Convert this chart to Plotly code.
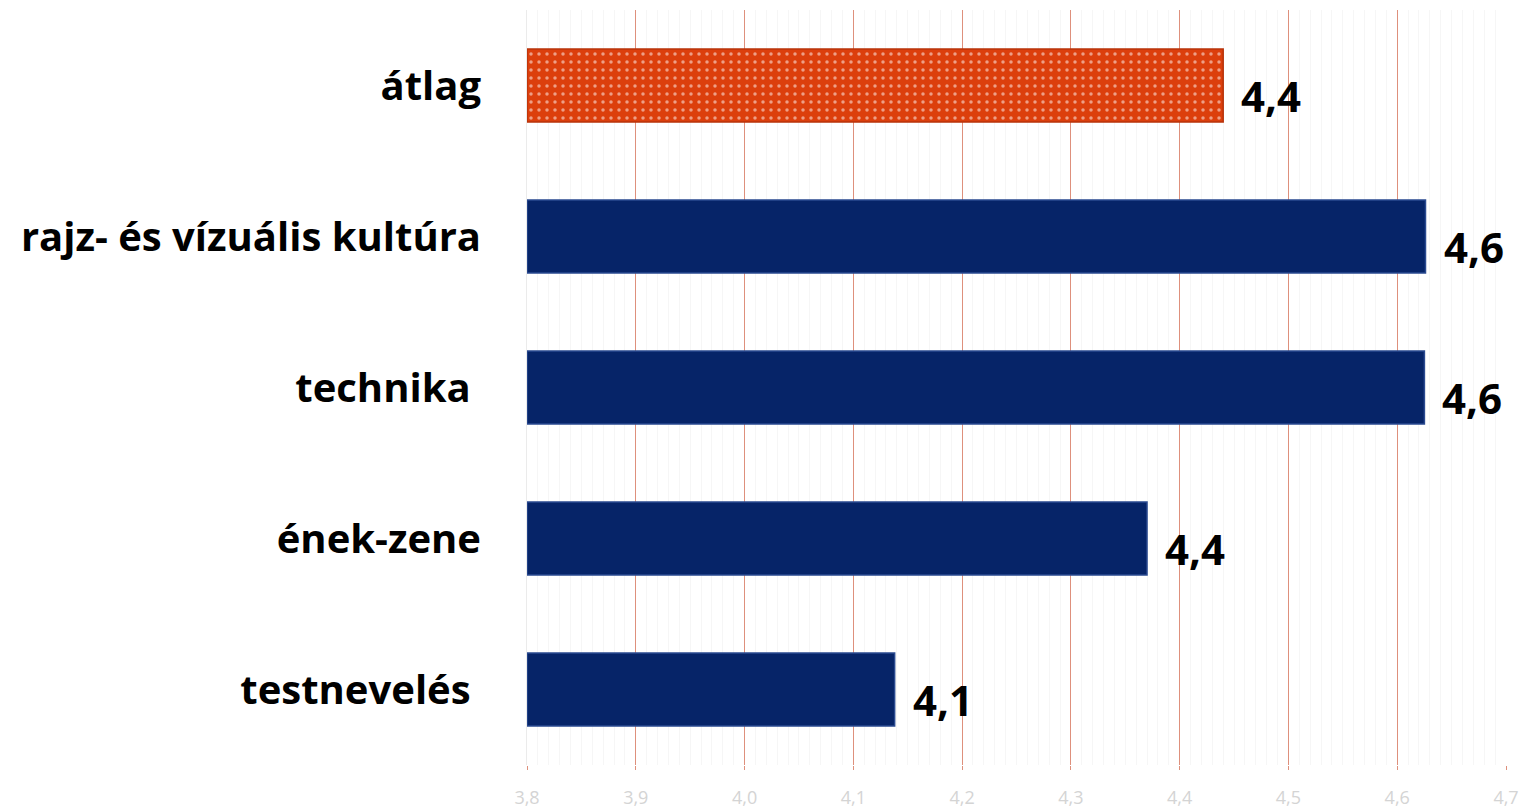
import plotly.graph_objects as go

categories = ["átlag", "rajz- és vízuális kultúra", "technika ", "ének-zene", "testnevelés "]
values = [4.44, 4.626, 4.625, 4.37, 4.138]
value_labels = ["4,4", "4,6", "4,6", "4,4", "4,1"]
tick_vals = [3.8, 3.9, 4.0, 4.1, 4.2, 4.3, 4.4, 4.5, 4.6, 4.7]
tick_text = ["3,8", "3,9", "4,0", "4,1", "4,2", "4,3", "4,4", "4,5", "4,6", "4,7"]
axis_start = 3.8

orange = "#DC3F0C"
navy = "#062468"

colors = [orange if c == "átlag" else navy for c in categories]
line_colors = ["#B8330A" if c == "átlag" else "#2A4A90" for c in categories]
pattern_shapes = ["." if c == "átlag" else "" for c in categories]

# minor grid every 0.01, skipping the major positions
minor_vals = [round(tick_vals[0] + i * 0.01, 2) for i in range(1, 90) if i % 10 != 0]

fig = go.Figure()
fig.add_trace(go.Bar(
    y=categories,
    x=[v - axis_start for v in values],
    base=axis_start,
    orientation="h",
    marker=dict(
        color=colors,
        line=dict(color=line_colors, width=1.5),
        pattern=dict(shape=pattern_shapes, fgcolor="#FFFFFF",
                     size=8, solidity=0.15, fillmode="overlay"),
    ),
    hoverinfo="skip",
))

for c, v, t in zip(categories, values, value_labels):
    fig.add_annotation(
        x=v, y=c, text=t, showarrow=False,
        xanchor="left", yanchor="middle", xshift=16, yshift=-10,
        font=dict(family="Open Sans", size=42, color="#000000", weight="bold"),
    )

fig.update_layout(
    width=1520, height=804,
    margin=dict(l=519, r=22, t=2, b=47, autoexpand=False),
    paper_bgcolor="white", plot_bgcolor="white",
    bargap=0.515,
    showlegend=False,
    xaxis=dict(
        range=[3.8, 4.7],
        tickvals=tick_vals, ticktext=tick_text,
        showgrid=True, gridcolor="#DE907C", gridwidth=1.2,
        zeroline=False,
        ticks="outside", ticklen=4, tickcolor="#DE907C",
        tickfont=dict(family="Open Sans", size=18, color="#D4D4D4"),
        ticklabelstandoff=12,
        automargin=False,
        minor=dict(tickvals=minor_vals, showgrid=True, gridcolor="#F6F6F6", gridwidth=1),
        showline=False,
    ),
    yaxis=dict(
        categoryorder="array", categoryarray=categories,
        autorange="reversed",
        showgrid=False,
        showline=True, linecolor="#EBEBEB", linewidth=1,
        ticks="",
        automargin=False,
        tickfont=dict(family="Open Sans", size=40, color="#000000", weight="bold"),
        ticklabelstandoff=37,
    ),
)

fig.write_html("out.html")
